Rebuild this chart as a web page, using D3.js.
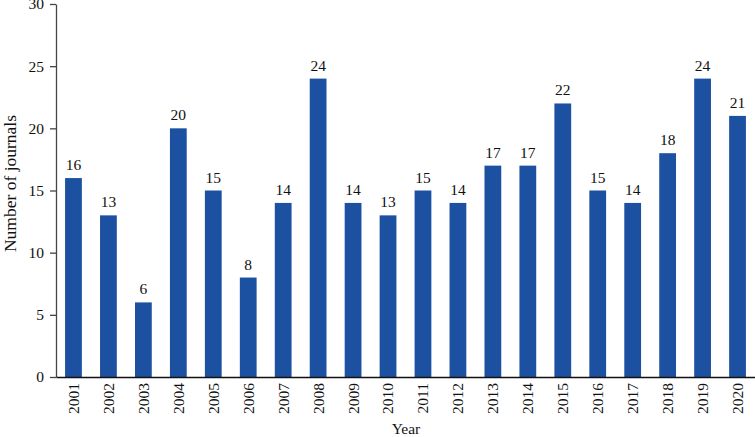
<!DOCTYPE html>
<html>
<head>
<meta charset="utf-8">
<script src="https://cdn.jsdelivr.net/npm/d3@7"></script>
<style>
  body { margin: 0; background: #fff; }
  text { font-family: "Liberation Serif", "DejaVu Serif", serif; fill: #111; }
</style>
</head>
<body>
<div id="chart"></div>
<script>
var years = ["2001", "2002", "2003", "2004", "2005", "2006", "2007", "2008", "2009", "2010",
             "2011", "2012", "2013", "2014", "2015", "2016", "2017", "2018", "2019", "2020"];
var journals = [16, 13, 6, 20, 15, 8, 14, 24, 14, 13, 15, 14, 17, 17, 22, 15, 14, 18, 24, 21];
var yTicks = [0, 5, 10, 15, 20, 25, 30];

var width = 755, height = 437;
var margin = {left: 56, right: 0, top: 4, bottom: 60};

var data = years.map(function(y, i) { return {year: y, value: journals[i]}; });

var svg = d3.select("#chart").append("svg")
    .attr("width", width)
    .attr("height", height);

var x = d3.scaleBand()
    .domain(years)
    .range([margin.left, width - margin.right])
    .paddingInner(0.52)
    .paddingOuter(0.26);

var y = d3.scaleLinear()
    .domain([0, 30])
    .range([377, margin.top]);

// bars
svg.selectAll("rect.bar")
    .data(data)
    .enter()
    .append("rect")
    .attr("class", "bar")
    .attr("x", function(d) { return x(d.year); })
    .attr("y", function(d) { return y(d.value); })
    .attr("width", x.bandwidth())
    .attr("height", function(d) { return y(0) - y(d.value); })
    .attr("fill", "#1c50a1");

// value labels
svg.selectAll("text.val")
    .data(data)
    .enter()
    .append("text")
    .attr("class", "val")
    .attr("x", function(d) { return x(d.year) + x.bandwidth() / 2; })
    .attr("y", function(d) { return y(d.value) - 8; })
    .attr("text-anchor", "middle")
    .style("font-size", "15.5px")
    .text(function(d) { return d.value; });

// y axis
var yAxis = svg.append("g")
    .attr("transform", "translate(" + margin.left + ",0)")
    .call(d3.axisLeft(y).tickValues(yTicks).tickSize(6).tickSizeOuter(0));
yAxis.select(".domain").attr("stroke", "#444").attr("stroke-width", 1.3);
yAxis.selectAll(".tick line").attr("stroke", "#444").attr("stroke-width", 1.3);
yAxis.selectAll(".tick text")
    .style("font-size", "15.5px")
    .style("font-family", "Liberation Serif, serif")
    .attr("x", -12);

// x axis
var xAxis = svg.append("g")
    .attr("transform", "translate(0," + y(0) + ")")
    .call(d3.axisBottom(x).tickSize(0).tickSizeOuter(0));
xAxis.select(".domain").attr("stroke", "#111").attr("stroke-width", 1.3);
xAxis.selectAll(".tick text")
    .style("font-size", "15.5px")
    .style("font-family", "Liberation Serif, serif")
    .attr("transform", "rotate(-90)")
    .attr("text-anchor", "end")
    .attr("x", -6)
    .attr("y", 0)
    .attr("dy", "0.35em");

// axis titles
svg.append("text")
    .attr("transform", "translate(15.5,183.5) rotate(-90)")
    .attr("text-anchor", "middle")
    .style("font-size", "17.5px")
    .text("Number of journals");

svg.append("text")
    .attr("x", 406)
    .attr("y", 434)
    .attr("text-anchor", "middle")
    .style("font-size", "15.5px")
    .text("Year");
</script>
</body>
</html>
